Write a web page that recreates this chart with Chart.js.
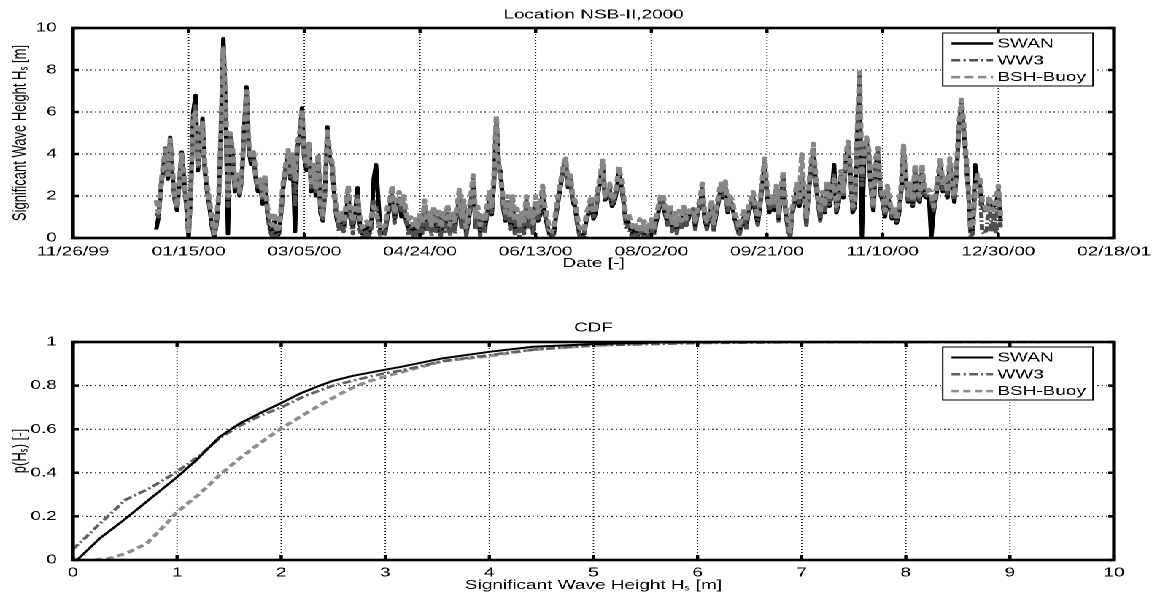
<!DOCTYPE html>
<html><head><meta charset="utf-8">
<script src="https://cdn.jsdelivr.net/npm/chart.js@4.4.1/dist/chart.umd.min.js"></script>
<style>
html,body{margin:0;padding:0;background:#fff;overflow:hidden;width:1160px;height:596px;}
#wrap{position:absolute;left:0;top:0;width:795px;height:596px;transform:scaleX(1.45912);transform-origin:0 0;}
canvas{display:block;}
</style></head><body>
<div id="wrap"><canvas id="ts" width="795" height="290"></canvas><canvas id="cdf" width="795" height="306"></canvas></div>
<script>
// ---------- data ----------
const seriesNames = ['SWAN', 'WW3', 'BSH-Buoy'];
const dateTicks = ['11/26/99','01/15/00','03/05/00','04/24/00','06/13/00','08/02/00','09/21/00','11/10/00','12/30/00','02/18/01'];
const cdfTicksX = ['0','1','2','3','4','5','6','7','8','9','10'];
const cdfTicksY = ['0','0.2','0.4','0.6','0.8','1'];
const axisOrigin = Date.UTC(1999, 10, 26);
const seriesStart = Date.UTC(2000, 0, 1);

// daily significant wave height [m], 2000-01-01 ... 2000-12-31
const swanHs = [
0.4,1.0,2.3,3.3,4.0,2.8,4.8,3.0,1.8,1.3,2.6,4.1,2.8,1.5,0.0,
2.2,6.0,6.8,3.2,4.2,5.7,3.2,2.2,1.5,0.6,0.0,0.6,1.8,5.2,9.5,
6.2,0.2,4.8,4.0,2.2,3.0,2.0,2.8,5.2,7.2,4.2,3.5,4.0,2.8,2.2,
2.5,1.6,2.8,1.2,0.6,0.2,0.8,0.0,0.2,1.2,2.5,3.3,4.0,2.8,3.8,
0.3,4.3,4.8,6.2,3.8,3.2,4.3,2.2,3.2,2.0,3.8,1.2,0.8,2.3,5.3,
3.8,3.4,2.0,0.9,0.5,0.9,0.5,1.1,2.0,0.9,0.5,1.2,2.4,0.7,0.2,
0.3,0.6,0.2,0.7,2.8,3.5,1.8,0.2,0.2,0.3,1.0,1.5,2.0,0.9,1.4,
1.8,1.0,1.6,0.8,0.4,0.6,0.2,0.5,0.2,0.8,0.4,1.4,0.5,0.9,0.3,
1.1,0.4,1.0,0.2,0.8,0.5,1.2,0.3,0.9,0.4,1.1,1.8,0.6,1.4,0.2,
0.8,1.6,2.6,0.6,1.1,0.3,0.8,0.4,1.1,1.8,1.1,2.6,5.6,3.6,3.0,
1.4,0.8,1.6,0.6,1.6,0.4,1.0,0.3,0.8,0.4,1.6,0.6,1.0,0.3,1.6,
0.8,1.1,2.2,1.1,0.6,0.2,0.1,0.3,1.2,1.9,2.6,3.3,3.6,2.4,2.8,
1.7,1.5,0.7,0.2,0.1,0.2,0.9,1.2,1.7,0.9,1.2,2.1,2.8,3.5,1.8,
2.0,2.3,1.5,1.7,2.2,3.2,2.5,1.7,0.7,0.8,0.4,0.2,0.4,0.1,0.5,
0.2,0.5,0.1,0.3,0.6,0.2,0.7,1.2,1.7,1.8,1.1,0.7,1.3,0.4,0.9,
0.3,1.0,0.5,1.2,0.6,0.9,1.3,1.3,0.5,1.2,1.5,2.3,0.9,0.5,0.9,
1.5,0.4,1.1,1.7,2.3,1.9,2.4,1.2,1.7,1.5,0.9,0.6,0.2,0.7,1.0,
0.5,1.2,1.5,1.9,1.2,0.7,1.5,2.5,3.6,2.1,1.2,1.7,1.3,2.2,0.9,
1.9,2.9,1.2,0.5,0.1,1.2,1.7,2.3,1.5,2.6,1.9,0.7,2.2,3.2,4.2,
2.7,1.7,0.9,1.9,1.2,2.4,1.5,2.1,3.5,1.2,1.7,2.9,1.9,3.5,4.4,
3.2,1.2,1.5,4.8,7.6,0.0,3.8,4.6,3.9,2.2,1.3,3.5,4.0,2.2,1.7,
1.0,2.2,1.5,0.9,1.2,0.7,1.1,2.2,4.2,2.7,1.7,2.3,1.5,3.2,1.9,
1.7,3.2,2.0,1.9,2.0,0.0,1.2,1.9,2.7,3.5,2.2,2.7,1.9,3.5,2.5,
1.7,3.2,5.2,6.4,5.2,3.7,2.2,0.3,0.4,3.5,2.8,2.5,1.5,1.3,1.4,
1.8,1.4,1.5,1.6,2.2,0.8];

const ww3Hs = [
1.2,1.0,2.4,3.4,4.3,2.9,4.5,3.1,1.9,1.4,2.7,3.9,2.9,1.6,0.2,
2.4,5.6,6.3,3.4,4.4,5.3,3.3,2.3,1.6,0.8,0.1,0.7,1.9,4.8,9.2,
6.4,1.5,4.9,4.1,2.4,3.1,2.1,2.9,4.9,6.9,4.4,3.7,4.1,2.9,2.3,
2.6,1.8,2.9,1.3,0.4,0.1,0.6,0.0,0.1,1.3,2.6,3.4,4.1,2.9,3.9,
1.5,4.4,4.9,6.0,3.9,3.4,4.4,2.4,3.4,2.2,3.9,1.4,0.9,2.4,5.0,
3.9,3.5,2.1,1.0,0.3,1.0,0.3,1.2,2.2,1.0,0.2,1.3,2.0,0.4,0.0,
0.1,0.4,0.0,0.5,1.8,1.5,0.6,0.0,0.1,0.2,1.2,1.6,2.2,0.7,1.5,
1.9,1.2,1.7,0.9,0.2,0.5,0.1,0.4,0.0,0.9,0.2,1.5,0.3,1.0,0.1,
1.2,0.3,1.1,0.1,0.9,0.3,1.3,0.1,1.0,0.2,1.2,2.0,0.4,1.5,0.1,
0.9,1.7,2.8,0.4,1.2,0.1,0.9,0.2,1.2,2.0,1.2,2.8,5.5,3.3,2.7,
1.5,0.9,1.8,0.4,1.8,0.2,1.1,0.1,0.9,0.2,1.8,0.4,1.1,0.1,1.8,
0.9,1.2,2.4,1.2,0.5,0.1,0.0,0.2,1.3,2.0,2.7,3.4,3.7,2.5,2.9,
1.8,1.6,0.6,0.1,0.0,0.1,1.0,1.3,1.8,1.0,1.3,2.2,2.9,3.6,1.9,
2.1,2.4,1.6,1.8,2.3,3.3,2.6,1.8,0.5,0.6,0.2,0.0,0.3,0.0,0.4,
0.1,0.4,0.0,0.2,0.5,0.1,0.6,1.3,1.8,1.9,1.2,0.6,1.4,0.3,1.0,
0.2,1.1,0.4,1.3,0.5,1.0,1.2,1.4,0.4,1.3,1.6,2.4,1.0,0.4,1.0,
1.6,0.3,1.2,1.8,2.4,2.0,2.5,1.3,1.8,1.6,1.0,0.4,0.1,0.6,1.1,
0.4,1.3,1.6,2.0,1.3,0.6,1.6,2.6,3.7,2.2,1.3,1.8,1.4,2.3,0.8,
2.0,3.0,1.3,0.4,0.0,1.3,1.8,2.4,1.6,3.0,2.0,0.6,2.3,3.3,4.3,
2.8,1.8,0.8,2.0,1.3,2.5,1.6,2.2,3.0,1.3,1.8,3.0,2.0,3.6,4.5,
3.3,1.3,1.6,4.9,7.7,2.5,3.9,4.7,4.0,2.3,1.4,3.6,4.1,2.3,1.8,
1.1,2.3,1.6,1.0,1.3,0.8,1.2,2.3,4.3,2.8,1.8,2.4,1.6,3.3,2.0,
1.8,3.3,2.1,2.0,2.1,1.8,1.3,2.0,2.8,3.6,2.3,2.8,2.0,3.6,2.6,
1.8,3.3,5.3,6.5,5.3,3.8,2.3,0.1,0.2,2.3,2.6,2.6,0.3,0.2,0.4,
1.9,0.3,1.1,0.2,2.3,0.5];

const buoyHs = [
1.8,1.2,2.5,3.5,4.2,3.0,4.7,3.2,2.0,1.5,2.8,4.0,3.0,1.8,0.3,
2.5,5.8,6.0,3.5,4.5,5.5,3.5,2.5,1.8,1.0,0.2,0.8,2.0,5.0,9.0,
6.5,2.0,5.0,4.2,2.5,3.2,2.2,3.0,5.0,7.0,4.5,3.8,4.2,3.0,2.5,
2.8,2.0,3.0,1.5,1.0,0.6,1.2,0.3,0.5,1.5,2.8,3.5,4.2,3.0,4.0,
2.8,4.5,5.0,6.1,4.0,3.5,4.5,2.5,3.5,2.3,4.0,1.5,1.0,2.5,5.2,
4.0,3.6,2.2,1.2,0.8,1.2,0.8,1.5,2.5,1.2,0.8,1.5,1.8,1.0,0.5,
0.6,0.8,0.5,1.0,1.5,1.2,0.8,0.4,0.5,0.6,1.5,1.8,2.5,1.2,1.8,
2.2,1.5,2.0,1.2,0.8,1.0,0.6,0.9,0.5,1.2,0.7,1.8,0.8,1.3,0.6,
1.5,0.8,1.4,0.5,1.2,0.9,1.6,0.6,1.3,0.8,1.5,2.3,1.0,1.8,0.5,
1.2,2.0,3.0,1.0,1.5,0.6,1.2,0.8,1.5,2.2,1.5,3.0,5.8,3.5,2.8,
1.8,1.2,2.0,1.0,2.0,0.8,1.4,0.6,1.2,0.8,2.0,1.0,1.4,0.7,2.0,
1.2,1.5,2.5,1.5,1.0,0.4,0.3,0.6,1.5,2.2,2.8,3.5,3.8,2.6,3.0,
2.0,1.8,1.0,0.5,0.3,0.4,1.2,1.5,2.0,1.2,1.5,2.4,3.0,3.7,2.0,
2.3,2.6,1.8,2.0,2.5,3.4,2.8,2.0,1.0,1.2,0.8,0.5,0.7,0.3,0.9,
0.4,0.8,0.3,0.6,0.9,0.5,1.0,1.5,2.0,2.1,1.4,1.0,1.6,0.7,1.2,
0.6,1.3,0.8,1.5,0.9,1.2,1.4,1.3,0.8,1.5,1.8,2.6,1.2,0.8,1.2,
1.8,0.7,1.4,2.0,2.6,2.2,2.7,1.5,2.0,1.8,1.2,0.9,0.5,1.0,1.3,
0.8,1.5,1.8,2.2,1.5,1.0,1.8,2.8,3.8,2.4,1.5,2.0,1.6,2.5,1.2,
2.2,3.2,1.5,0.8,0.3,1.5,2.0,2.6,1.8,4.0,2.2,1.0,2.5,3.5,4.5,
3.0,2.0,1.2,2.2,1.5,2.7,1.8,2.4,2.8,1.5,2.0,3.2,2.2,3.8,4.6,
3.5,1.5,1.8,5.0,7.9,3.0,4.0,4.8,4.2,2.5,1.5,3.8,4.3,2.5,2.0,
1.3,2.5,1.8,1.2,1.5,1.0,1.4,2.5,4.4,3.0,2.0,2.6,1.8,3.5,2.2,
2.0,3.5,2.3,2.2,2.3,2.2,1.5,2.2,3.0,3.8,2.5,3.0,2.2,3.8,2.8,
2.0,3.5,5.5,6.6,5.5,4.0,2.5,0.5,0.6,2.5,3.0,2.8,1.8,1.5,1.2,
2.0,1.5,1.3,1.8,2.5,1.0];

// CDF of Hs
const cdfSwanH = [0,0.05,0.26,0.48,0.74,1.0,1.19,1.41,1.6,1.79,2.0,2.18,2.37,2.5,2.69,3.0,3.14,3.55,4.0,4.42,5.0,5.7,6.2,7.5,9.5];
const cdfSwanP = [0,0.005,0.10,0.18,0.28,0.38,0.46,0.565,0.626,0.672,0.72,0.763,0.80,0.822,0.845,0.873,0.885,0.925,0.955,0.978,0.99,0.998,1,1,1];
const cdfWw3H  = [0,0.13,0.26,0.38,0.5,0.74,1.0,1.22,1.41,1.6,1.79,2.0,2.24,2.5,2.82,3.0,3.14,3.55,4.0,4.42,5.0,6.0,7.0,8.0,9.3];
const cdfWw3P  = [0.05,0.107,0.168,0.22,0.275,0.33,0.405,0.48,0.56,0.615,0.66,0.70,0.755,0.80,0.838,0.857,0.868,0.912,0.94,0.965,0.984,0.995,0.999,1,1];
const cdfBuoyH = [0.21,0.35,0.51,0.71,0.9,1.0,1.22,1.41,1.6,1.79,2.0,2.18,2.37,2.63,2.82,3.0,3.14,3.55,4.0,4.42,5.0,5.7,6.5,7.5,8.8];
const cdfBuoyP = [0,0.008,0.03,0.076,0.168,0.22,0.305,0.39,0.466,0.534,0.603,0.656,0.71,0.778,0.817,0.842,0.86,0.912,0.936,0.965,0.985,0.997,1,1,1];

// ---------- helpers ----------
const startOffset = (seriesStart - axisOrigin) / 86400000;
const dailyPoints = arr => arr.map((v, i) => ({x: startOffset + i, y: v}));
const pairPoints = (xs, ys) => xs.map((v, i) => ({x: v, y: ys[i]}));
const FONT = '"Liberation Sans", Arial, Helvetica, sans-serif';
Chart.defaults.font.family = FONT;
Chart.defaults.font.size = 13;
Chart.defaults.color = '#000';

const styles = [
  {color: '#000000', dash: []},
  {color: '#4f4f4f', dash: [6, 2.2, 1.6, 2.2]},
  {color: '#878787', dash: [6, 3]}
];

const matlabAxes = {
  id: 'matlabAxes',
  beforeDatasetsDraw(chart) {
    const {ctx, chartArea: a, scales: {x, y}} = chart;
    ctx.save();
    ctx.strokeStyle = '#111';
    ctx.lineWidth = 0.9;
    ctx.setLineDash([1, 2]);
    x.ticks.forEach(t => {
      const p = x.getPixelForValue(t.value);
      if (p <= a.left + 1 || p >= a.right - 1) return;
      ctx.beginPath(); ctx.moveTo(p, a.top); ctx.lineTo(p, a.bottom); ctx.stroke();
    });
    ctx.lineWidth = 1;
    y.ticks.forEach(t => {
      const p = y.getPixelForValue(t.value);
      if (p <= a.top + 1 || p >= a.bottom - 1) return;
      ctx.beginPath(); ctx.moveTo(a.left, p); ctx.lineTo(a.right, p); ctx.stroke();
    });
    ctx.restore();
  },
  afterDatasetsDraw(chart) {
    const {ctx, chartArea: a, scales: {x, y}} = chart;
    ctx.save();
    ctx.setLineDash([]);
    ctx.strokeStyle = '#000';
    ctx.lineWidth = 2.2;
    x.ticks.forEach(t => {
      const p = x.getPixelForValue(t.value);
      ctx.beginPath(); ctx.moveTo(p, a.bottom); ctx.lineTo(p, a.bottom - 5);
      ctx.moveTo(p, a.top); ctx.lineTo(p, a.top + 5); ctx.stroke();
    });
    ctx.lineWidth = 2.5;
    y.ticks.forEach(t => {
      const p = y.getPixelForValue(t.value);
      ctx.beginPath(); ctx.moveTo(a.left, p); ctx.lineTo(a.left + 4, p);
      ctx.moveTo(a.right, p); ctx.lineTo(a.right - 4, p); ctx.stroke();
    });
    ctx.lineWidth = 2.6;
    ctx.strokeRect(a.left, a.top, a.right - a.left, a.bottom - a.top);
    const w = 103, h = 53;
    const bx = a.right - 14.4 - w, by = a.top + 5;
    ctx.fillStyle = '#fff';
    ctx.fillRect(bx, by, w, h);
    ctx.lineWidth = 1;
    ctx.strokeRect(bx, by, w, h);
    ctx.font = '13px ' + FONT;
    ctx.textBaseline = 'middle';
    ctx.textAlign = 'left';
    chart.data.datasets.forEach((ds, i) => {
      const yy = by + 10.5 + i * 16.8;
      ctx.strokeStyle = ds.borderColor;
      ctx.lineWidth = Math.min(ds.borderWidth, 2.5);
      ctx.setLineDash(ds.borderDash || []);
      ctx.beginPath(); ctx.moveTo(bx + 6, yy); ctx.lineTo(bx + 34.5, yy); ctx.stroke();
      ctx.fillStyle = '#000';
      ctx.fillText(ds.label, bx + 37.5, yy + 0.5);
    });
    ctx.restore();
  }
};

function baseOptions(titleText, titlePad) {
  return {
    responsive: false, animation: false, devicePixelRatio: 2, events: [],
    elements: {point: {radius: 0}, line: {tension: 0, borderJoinStyle: 'round'}},
    layout: {padding: {left: 0, right: 31.5, top: 0, bottom: 0}},
    plugins: {
      legend: {display: false}, tooltip: {enabled: false},
      title: {display: true, text: titleText, fullSize: false, color: '#000',
              font: {size: 13, weight: 'normal'}, padding: titlePad}
    }
  };
}

// ---------- top: time series ----------
const tsOpts = baseOptions('Location NSB-II,2000', {top: 7, bottom: 5.4});
tsOpts.scales = {
  x: {type: 'linear', min: 0, max: 450,
      grid: {display: false}, border: {display: false},
      ticks: {stepSize: 50, autoSkip: false, maxRotation: 0, padding: -2,
              callback: (v, i) => dateTicks[i]},
      title: {display: true, text: 'Date [-]', color: '#000', font: {size: 13}, padding: {top: 0, bottom: 19}},
      afterFit(s) { s.height = 52; }},
  y: {type: 'linear', min: 0, max: 10,
      grid: {display: false}, border: {display: false},
      ticks: {stepSize: 2, padding: 3},
      title: {display: true, text: 'Significant Wave Height H\u209B [m]', color: '#000', font: {size: 13}, padding: {top: 6, bottom: 0}},
      afterFit(s) { s.width = 50; }}
};
new Chart(document.getElementById('ts'), {
  type: 'line',
  data: {datasets: [
    {label: seriesNames[0], data: dailyPoints(swanHs), borderColor: styles[0].color, borderDash: styles[0].dash, borderWidth: 3, order: 3},
    {label: seriesNames[1], data: dailyPoints(ww3Hs), borderColor: styles[1].color, borderDash: styles[1].dash, borderWidth: 3, order: 2},
    {label: seriesNames[2], data: dailyPoints(buoyHs), borderColor: styles[2].color, borderDash: styles[2].dash, borderWidth: 3.6, order: 1}
  ]},
  options: tsOpts,
  plugins: [matlabAxes]
});

// ---------- bottom: CDF ----------
const cdfOpts = baseOptions('CDF', {top: 30.2, bottom: 6.2});
cdfOpts.scales = {
  x: {type: 'linear', min: 0, max: 10,
      grid: {display: false}, border: {display: false},
      ticks: {stepSize: 1, autoSkip: false, maxRotation: 0, padding: -3,
              callback: (v, i) => cdfTicksX[i]},
      title: {display: true, text: 'Significant Wave Height H\u209B [m]', color: '#000', font: {size: 13}, padding: {top: 0, bottom: 3}},
      afterFit(s) { s.height = 36; }},
  y: {type: 'linear', min: 0, max: 1,
      grid: {display: false}, border: {display: false},
      ticks: {stepSize: 0.2, padding: 3, callback: (v, i) => cdfTicksY[i]},
      title: {display: true, text: 'p(H\u209B) [-]', color: '#000', font: {size: 13}, padding: {top: 6, bottom: 0}},
      afterFit(s) { s.width = 50; }}
};
new Chart(document.getElementById('cdf'), {
  type: 'line',
  data: {datasets: [
    {label: seriesNames[0], data: pairPoints(cdfSwanH, cdfSwanP), borderColor: styles[0].color, borderDash: styles[0].dash, borderWidth: 2, order: 1},
    {label: seriesNames[1], data: pairPoints(cdfWw3H, cdfWw3P), borderColor: '#606060', borderDash: styles[1].dash, borderWidth: 2.5, order: 2},
    {label: seriesNames[2], data: pairPoints(cdfBuoyH, cdfBuoyP), borderColor: '#8e8e8e', borderDash: [5, 3], borderWidth: 3, order: 3}
  ]},
  options: cdfOpts,
  plugins: [matlabAxes]
});
</script>
</body></html>
